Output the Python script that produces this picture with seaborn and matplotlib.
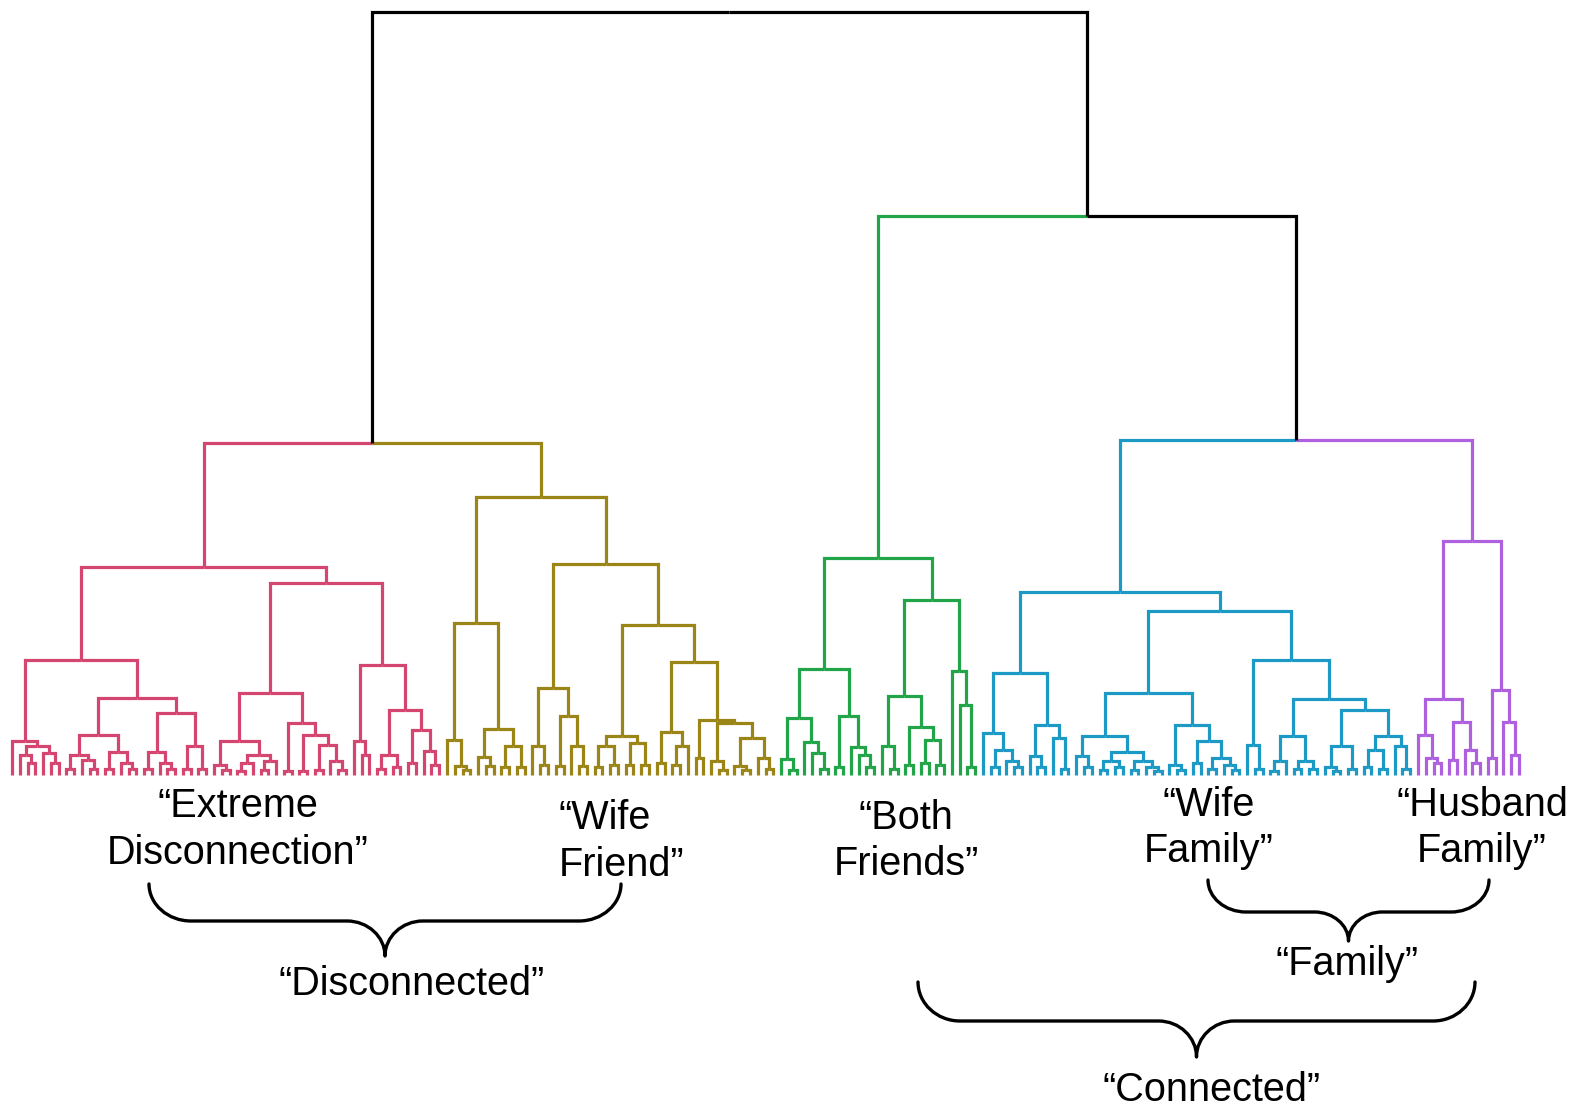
import numpy as np
import pandas as pd
import matplotlib
matplotlib.use("Agg")
import matplotlib.pyplot as plt
from matplotlib.path import Path
from matplotlib.patches import PathPatch
import seaborn as sns

# ---------------------------------------------------------------------------
# Tree data: every internal node is [merge height, left child, right child],
# a 0 is a single leaf.  Heights are in the same arbitrary distance units.
# ---------------------------------------------------------------------------
ROOT_H = 760          # "Disconnected" vs "Connected"
DISCONNECTED_H = 331  # Extreme Disconnection + Wife Friend
CONNECTED_H = 557     # Both Friends + Family
FAMILY_H = 334        # Wife Family + Husband Family

pink_tree = [207,
    [115,
        [34, 0, [29, [20, 0, [12, 0, 0]], [22, 0, [12, 0, 0]]]],
        [77,
            [40, [20, [6, 0, 0], [15, 0, [6, 0, 0]]], [23, [6, 0, 0], [12, 0, [6, 0, 0]]]],
            [62, [23, [6, 0, 0], [12, 0, [6, 0, 0]]], [29, [6, 0, 0], [6, 0, 0]]]]],
    [191,
        [82,
            [34, [10, 0, [5, 0, 0]], [20, [12, [4, 0, 0], 0], [14, [5, 0, 0], 0]]],
            [52, [4, 0, 0], [40, [4, 0, 0], [30, [5, 0, 0], [14, 0, [5, 0, 0]]]]]],
        [110, [34, 0, [20, 0, 0]],
            [65, [20, [6, 0, 0], [8, 0, 0]], [45, [12, 0, 0], [24, 0, [10, 0, 0]]]]]]]

gold_tree = [277,
    [151, [35, 0, [9, 0, [5, 0, 0]]], [46, [18, 0, [9, 0, 0]], [29, [8, 0, 0], [8, 0, 0]]]],
    [210,
        [87, [29, 0, [10, 0, 0]], [59, [9, 0, 0], [29, 0, [9, 0, 0]]]],
        [149,
            [39, [29, [8, 0, 0], [10, 0, 0]], [32, [10, 0, 0], [10, 0, 0]]],
            [113, [43, [12, 0, 0], [29, [10, 0, 0], 0]],
                [55, [17, 0, 0], [52, [14, 0, [5, 0, 0]],
                                  [37, [9, 0, [5, 0, 0]], [17, 0, [6, 0, 0]]]]]]]]]

green_tree = [216,
    [106, [57, [16, 0, [5, 0, 0]], [33, 0, [22, 0, [6, 0, 0]]]],
          [59, [8, 0, 0], [28, 0, [20, 0, [8, 0, 0]]]]],
    [174, [79, [29, 0, [6, 0, 0]], [48, [10, 0, 0], [35, [12, 0, 0], [10, 0, 0]]]],
          [104, 0, [70, 0, [8, 0, 0]]]]]

blue_tree = [182,
    [102, [42, 0, [25, [8, 0, 0], [14, 0, [8, 0, 0]]]],
          [50, [19, 0, [8, 0, 0]], [37, 0, [6, 0, 0]]]],
    [163,
        [82, [39, [19, 0, [8, 0, 0]],
                  [23, [14, [5, 0, 0], [8, 0, 0]], [14, [5, 0, 0], [8, 0, [4, 0, 0]]]]],
             [50, [10, 0, [5, 0, 0]], [34, [12, 0, 0], [17, [6, 0, 0], [10, 0, [5, 0, 0]]]]]],
        [115, [30, 0, [6, 0, 0]],
              [76, [39, [14, [4, 0, 0], 0], [14, [6, 0, 0], [6, 0, 0]]],
                   [65, [29, [8, 0, [4, 0, 0]], [6, 0, 0]],
                        [39, [25, [8, 0, 0], [6, 0, 0]], [29, 0, [6, 0, 0]]]]]]]]

purple_tree = [233,
    [76, [40, 0, [17, 0, [12, 0, 0]]], [53, [15, 0, 0], [25, 0, [12, 0, 0]]]],
    [85, [17, 0, 0], [53, 0, [20, 0, 0]]]]

cluster_keys = ["pink", "gold", "green", "blue", "purple"]
cluster_trees = [pink_tree, gold_tree, green_tree, blue_tree, purple_tree]
cluster_colors = ["#d4456f", "#9b8517", "#22a449", "#1c9ac5", "#ae60df"]

# upper levels of the tree join the five clusters
upper_tree = [ROOT_H, [DISCONNECTED_H, "pink", "gold"],
              [CONNECTED_H, "green", [FAMILY_H, "blue", "purple"]]]

trees = dict(zip(cluster_keys, cluster_trees))
palette = dict(zip(cluster_keys, cluster_colors))
palette["link"] = "black"

# ---------------------------------------------------------------------------
# Lay the tree out: leaves on consecutive integer positions, each node at the
# mean of its children.  Every child gets an "arm": up to the merge height and
# across to the parent, coloured by the child's cluster.
# ---------------------------------------------------------------------------
rows = []
leaf_counter = [0]
arm_counter = [0]


def walk(node, label):
    if isinstance(node, str):
        return walk(trees[node], node)
    if node == 0:
        x = leaf_counter[0]
        leaf_counter[0] += 1
        return x, 0.0
    h, *kids = node
    arms = []
    for kid in kids:
        kid_label = kid if isinstance(kid, str) else label
        kx, kh = walk(kid, kid_label)
        arms.append((kid_label, kx, kh))
    x = float(np.mean([a[1] for a in arms]))
    for kid_label, kx, kh in arms:
        arm = arm_counter[0]
        arm_counter[0] += 1
        for px, py in [(kx, kh), (kx, h), (x, h)]:
            rows.append({"x": px, "height": py, "arm": arm, "group": kid_label})
    return x, h


walk(upper_tree, "link")
segments = pd.DataFrame(rows)
n_leaves = leaf_counter[0]

# ---------------------------------------------------------------------------
sns.set_theme(style="white")
plt.rcParams["font.family"] = ["Liberation Sans", "DejaVu Sans"]

W, H = 1575, 1113
fig = plt.figure(figsize=(W / 100, H / 100), dpi=100)

# dendrogram axes: leaves from px 12 to 1519, heights from px 775 up to 12
ax = fig.add_axes([12 / W, (H - 775) / H, (1519 - 12) / W, (775 - 12) / H])
sns.lineplot(data=segments, x="x", y="height", units="arm", hue="group",
             estimator=None, sort=False, palette=palette, linewidth=2.3,
             legend=False, ax=ax)
for line in ax.lines:
    line.set_clip_on(False)
    line.set_solid_joinstyle("miter")
    line.set_solid_capstyle("butt")
ax.set_xlim(0, n_leaves - 1)
ax.set_ylim(0, ROOT_H)
ax.set_axis_off()

# annotation layer in pixel coordinates
ov = fig.add_axes([0, 0, 1, 1])
ov.set_xlim(0, W)
ov.set_ylim(H, 0)
ov.set_axis_off()
ov.patch.set_alpha(0)

FS = 28.5
labels = [
    ("\u201cExtreme", 238, 817, "center"),
    ("Disconnection\u201d", 238, 864, "center"),
    ("\u201cWife", 559, 829, "left"),
    ("Friend\u201d", 559, 876, "left"),
    ("\u201cBoth", 906, 829, "center"),
    ("Friends\u201d", 906, 875, "center"),
    ("\u201cWife", 1209, 816, "center"),
    ("Family\u201d", 1209, 862, "center"),
    ("\u201cHusband", 1482, 816, "center"),
    ("Family\u201d", 1482, 862, "center"),
    ("\u201cDisconnected\u201d", 412, 995, "center"),
    ("\u201cFamily\u201d", 1347, 975, "center"),
    ("\u201cConnected\u201d", 1212, 1101, "center"),
]
for txt, x, y, ha in labels:
    ov.text(x, y, txt, ha=ha, va="baseline", fontsize=FS, color="black")


def brace(axis, x0, x1, ytop, yflat, ytip, r_end=42, r_mid=38, k=0.55):
    xm = (x0 + x1) / 2
    verts = [
        (x0, ytop),
        (x0, ytop + k * (yflat - ytop)), (x0 + r_end * (1 - k), yflat), (x0 + r_end, yflat),
        (xm - r_mid, yflat),
        (xm - r_mid * (1 - k), yflat), (xm, ytip - k * (ytip - yflat)), (xm, ytip),
        (xm, ytip - k * (ytip - yflat)), (xm + r_mid * (1 - k), yflat), (xm + r_mid, yflat),
        (x1 - r_end, yflat),
        (x1 - r_end * (1 - k), yflat), (x1, ytop + k * (yflat - ytop)), (x1, ytop),
    ]
    codes = ([Path.MOVETO] + [Path.CURVE4] * 3 + [Path.LINETO] + [Path.CURVE4] * 3
             + [Path.CURVE4] * 3 + [Path.LINETO] + [Path.CURVE4] * 3)
    axis.add_patch(PathPatch(Path(verts, codes), fill=False, lw=2.4,
                             edgecolor="black", capstyle="round", joinstyle="round"))


brace(ov, 149, 621, 884, 921, 956)
brace(ov, 1208, 1489, 880, 912, 941, r_end=38, r_mid=34)
brace(ov, 918, 1475, 982, 1021, 1057)

fig.savefig("out.png", dpi=100, facecolor="white")
